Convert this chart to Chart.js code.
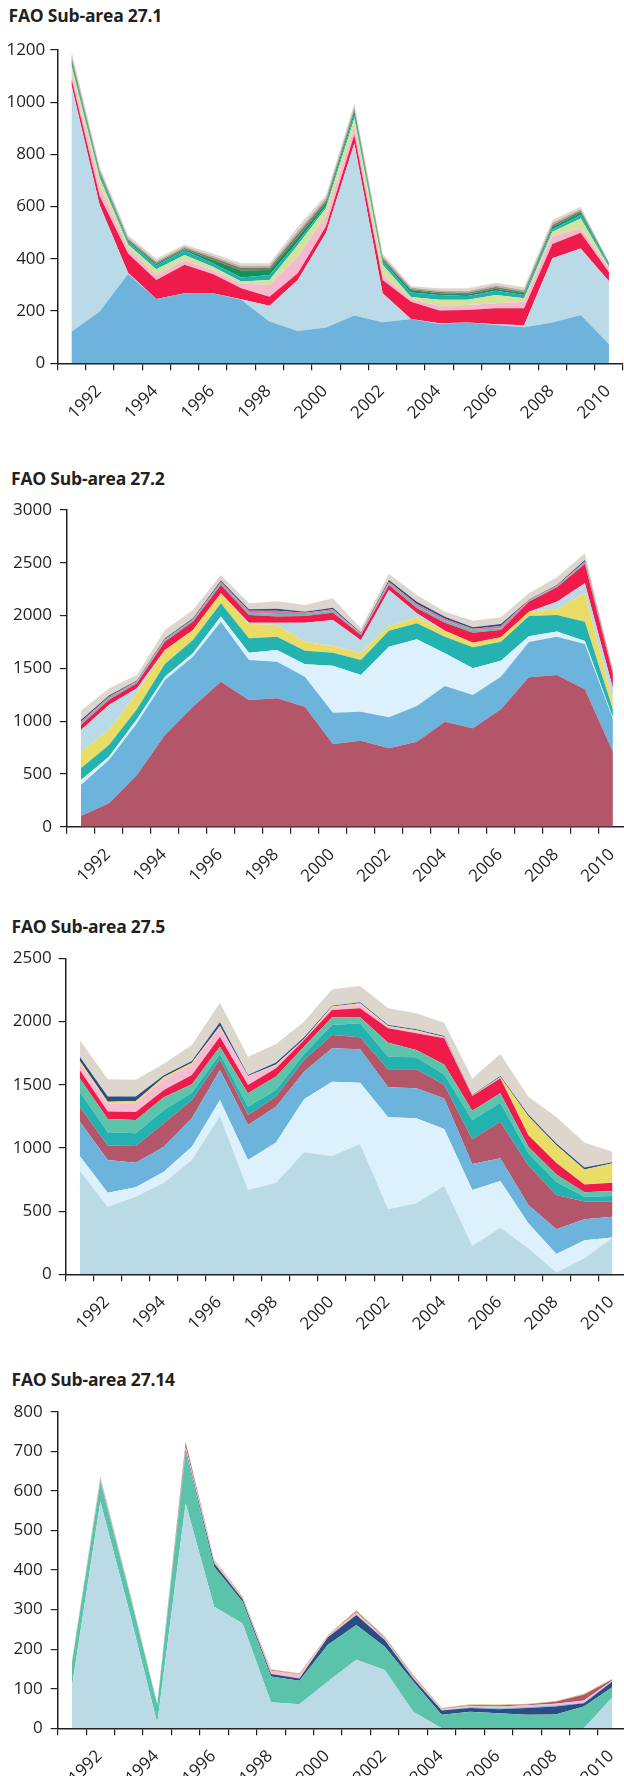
<!DOCTYPE html>
<html>
<head>
<meta charset="utf-8">
<script src="https://cdn.jsdelivr.net/npm/chart.js@4.4.1/dist/chart.umd.min.js"></script>
<style>
  html, body { margin: 0; padding: 0; background: #fff; width: 624px; height: 1776px; overflow: hidden; }
  .title { position: absolute; font-family: 'Open Sans', sans-serif; font-weight: 700; font-size: 17.5px;
           line-height: 17.5px; color: #231f20; white-space: nowrap; letter-spacing: -0.2px; }
  canvas { position: absolute; left: 0; }
</style>
</head>
<body>
<div class="title" style="left:8.5px;top:7px">FAO Sub-area 27.1</div>
<canvas id="c1" width="640" height="410" style="top:30px;width:640px;height:410px"></canvas>

<div class="title" style="left:11px;top:469.5px">FAO Sub-area 27.2</div>
<canvas id="c2" width="640" height="410" style="top:490px;width:640px;height:410px"></canvas>

<div class="title" style="left:11.5px;top:917.5px">FAO Sub-area 27.5</div>
<canvas id="c3" width="640" height="410" style="top:938px;width:640px;height:410px"></canvas>

<div class="title" style="left:11.5px;top:1371px">FAO Sub-area 27.14</div>
<canvas id="c4" width="640" height="386" style="top:1390px;width:640px;height:386px"></canvas>

<script>
// Years on the category axis
const years = ['1991','1992','1993','1994','1995','1996','1997','1998','1999','2000',
               '2001','2002','2003','2004','2005','2006','2007','2008','2009','2010'];

// ---- Sub-area 27.1 (layers bottom to top) ----
const s1Blue        = [121,198,342,246,268,268,243,160,124,137,183,157,170,151,156,147,138,156,185,74];
const s1LightBlue   = [945,407,5,0,0,0,2,60,195,363,660,111,0,2,0,3,8,246,255,240];
const s1Red         = [25,35,74,73,109,74,42,35,26,25,32,51,66,49,48,61,65,55,60,35];
const s1Pink        = [25,40,19,21,19,15,19,45,63,40,31,19,10,18,19,19,25,31,17,15];
const s1YellowGreen = [25,30,15,20,19,13,7,19,45,30,32,39,8,23,20,32,13,16,38,5];
const s1Teal        = [8,10,10,15,17,13,16,19,13,8,13,12,17,19,15,16,13,9,13,8];
const s1DarkGreen   = [12,8,5,5,5,13,26,19,17,12,13,7,10,6,6,8,6,10,10,5];
const s1TaupeDark   = [10,7,5,5,5,8,10,9,12,9,9,7,4,5,6,6,6,7,6,2];
const s1TaupeMid    = [10,8,6,6,5,7,8,8,12,9,10,8,5,6,7,7,7,8,7,2];
const s1TaupeLight  = [15,10,9,9,8,10,10,9,16,12,13,10,6,8,10,10,10,11,9,1];

// ---- Sub-area 27.2 ----
const s2Maroon    = [101,221,489,868,1137,1374,1200,1216,1137,783,815,742,805,995,932,1112,1415,1437,1301,711];
const s2Blue      = [294,411,490,522,474,568,379,347,284,297,274,294,338,338,315,309,335,363,429,310];
const s2PaleCyan  = [47,31,38,31,31,48,69,111,117,445,348,669,632,310,253,152,55,50,30,10];
const s2Teal      = [111,111,95,120,126,126,136,126,129,123,142,152,152,157,199,180,191,155,182,80];
const s2Yellow    = [158,142,158,133,95,95,136,111,86,64,69,44,56,57,44,41,41,54,275,80];
const s2LightBlue = [205,237,41,0,0,0,13,22,180,246,119,341,38,0,0,0,0,73,89,120];
const s2Red       = [47,47,47,79,79,79,72,57,63,69,48,48,48,76,95,69,95,136,183,130];
const s2SeaGreen  = [16,16,12,12,13,15,22,25,19,19,8,15,22,17,25,16,8,8,11,9];
const s2Pink      = [16,16,8,10,10,13,19,31,12,13,7,15,19,20,12,21,5,6,12,6];
const s2Navy      = [15,12,8,9,9,13,13,19,10,16,7,16,22,19,14,20,5,8,15,10];
const s2Taupe     = [89,66,50,79,79,53,57,70,63,88,42,58,63,48,63,63,61,72,63,30];

// ---- Sub-area 27.5 ----
const s3LightBlue = [820,535,614,725,905,1250,667,725,965,936,1031,514,562,701,224,369,206,15,127,290];
const s3PaleCyan  = [116,111,74,87,105,129,238,317,419,588,485,728,672,449,443,369,197,146,143,2];
const s3Blue      = [272,259,195,198,224,238,276,284,219,264,264,237,237,240,206,180,146,195,165,164];
const s3Maroon    = [118,113,132,185,145,84,79,80,93,105,95,143,151,110,195,289,311,272,140,119];
const s3Teal      = [119,105,100,105,58,42,66,52,47,79,111,100,95,80,153,151,100,102,39,45];
const s3SeaGreen  = [106,106,106,100,66,58,106,106,58,61,47,110,57,80,73,74,50,60,36,39];
const s3Red       = [65,58,63,58,74,79,66,66,53,58,71,114,133,207,116,119,90,90,60,66];
const s3Pink      = [53,66,69,87,84,79,71,26,5,21,35,14,18,8,2,4,3,3,2,2];
const s3Yellow    = [21,13,18,15,13,5,0,4,3,6,5,4,5,3,3,5,147,137,118,151];
const s3Navy      = [32,40,35,15,13,31,8,15,13,7,8,8,8,7,3,9,15,15,15,8];
const s3Taupe     = [132,137,134,90,127,154,145,147,124,130,129,132,127,105,132,174,140,210,197,84];

// ---- Sub-area 27.14 ----
const s4LightBlue = [105,573,300,13,568,307,265,66,61,118,173,147,42,0,0,0,0,0,0,78];
const s4SeaGreen  = [59,50,48,46,131,101,55,65,59,93,88,59,76,34,42,38,34,35,55,26];
const s4Navy      = [1,2,1,1,4,9,6,6,6,19,25,17,8,11,9,10,17,20,8,14];
const s4SkyBlue   = [0,0,0,0,0,0,0,0,0,0,0,0,0,0,3,3,3,3,2,1];
const s4Pink      = [2,5,3,2,8,8,2,9,9,3,7,4,5,3,3,4,4,4,5,2];
const s4Maroon    = [1,2,1,0,10,0,1,2,1,1,3,2,2,1,2,3,2,5,15,2];
const s4Olive     = [2,4,2,1,4,2,4,1,3,2,3,3,2,2,2,2,2,2,2,2];

const INK = '#231f20';
const FONT = { family: "'Open Sans', sans-serif", size: 17 };

function stackedArea(id, layers, o) {
  const datasets = layers.map((l, i) => ({
    label: l[0],
    data: l[1],
    backgroundColor: l[2],
    borderColor: l[2],
    borderWidth: 0,
    pointRadius: 0,
    tension: 0,
    fill: i === 0 ? 'origin' : '-1'
  }));
  return new Chart(document.getElementById(id), {
    type: 'line',
    data: { labels: years, datasets },
    options: {
      responsive: false,
      animation: false,
      devicePixelRatio: 1,
      layout: { padding: { top: o.padTop, right: o.padRight, left: 0, bottom: 0 } },
      plugins: { legend: { display: false }, tooltip: { enabled: false } },
      scales: {
        x: {
          type: 'category',
          offset: true,
          grid: { offset: true, drawOnChartArea: false, drawTicks: true, tickLength: 7, color: INK, lineWidth: 1.2 },
          border: { display: true, color: INK, width: 1.5 },
          ticks: {
            autoSkip: false, minRotation: 45, maxRotation: 45, padding: 11, labelOffset: -1,
            color: INK, font: FONT,
            callback: (v, i) => (Number(years[i]) % 2 === 0 ? years[i] : '')
          },
          afterFit: s => { s.height = o.xHeight; }
        },
        y: {
          stacked: true,
          min: 0, max: o.max,
          grid: { drawOnChartArea: false, drawTicks: true, tickLength: 7, color: INK, lineWidth: 1.2 },
          border: { display: true, color: INK, width: 1.5 },
          ticks: { stepSize: o.step, padding: o.labelPad, color: INK, font: FONT, callback: v => String(v) },
          afterFit: s => { s.width = o.yWidth; }
        }
      }
    }
  });
}

stackedArea('c1', [
  ['Blue', s1Blue, '#6db3dc'],
  ['Light blue', s1LightBlue, '#b9dae6'],
  ['Red', s1Red, '#ee1b4b'],
  ['Pink', s1Pink, '#f6bad0'],
  ['Yellow-green', s1YellowGreen, '#d3e39c'],
  ['Teal', s1Teal, '#1fb1ae'],
  ['Dark green', s1DarkGreen, '#16905a'],
  ['Dark taupe', s1TaupeDark, '#857565'],
  ['Taupe', s1TaupeMid, '#b8ada1'],
  ['Light taupe', s1TaupeLight, '#ddd7cf']
], { max: 1200, step: 200, padTop: 20, padRight: 16.9, xHeight: 76.7, yWidth: 57.3, labelPad: 5 });

stackedArea('c2', [
  ['Maroon', s2Maroon, '#b4566a'],
  ['Blue', s2Blue, '#6db4dc'],
  ['Pale cyan', s2PaleCyan, '#dcf1fb'],
  ['Teal', s2Teal, '#24b3b1'],
  ['Yellow', s2Yellow, '#e9dc67'],
  ['Light blue', s2LightBlue, '#b9dae6'],
  ['Red', s2Red, '#ee1b4b'],
  ['Sea green', s2SeaGreen, '#5ac2a9'],
  ['Pink', s2Pink, '#e96aa0'],
  ['Navy', s2Navy, '#2b4c85'],
  ['Taupe', s2Taupe, '#ddd6cc']
], { max: 3000, step: 500, padTop: 20, padRight: 13.1, xHeight: 73.3, yWidth: 66.9, labelPad: 8 });

stackedArea('c3', [
  ['Light blue', s3LightBlue, '#badbe6'],
  ['Pale cyan', s3PaleCyan, '#dcf1fb'],
  ['Blue', s3Blue, '#6db4dc'],
  ['Maroon', s3Maroon, '#b4566a'],
  ['Teal', s3Teal, '#24b2b1'],
  ['Sea green', s3SeaGreen, '#5dc4ac'],
  ['Red', s3Red, '#ee1b4b'],
  ['Pink', s3Pink, '#f6bcd2'],
  ['Yellow', s3Yellow, '#e9dc67'],
  ['Navy', s3Navy, '#2b4c85'],
  ['Taupe', s3Taupe, '#ddd6cc']
], { max: 2500, step: 500, padTop: 20.3, padRight: 13.5, xHeight: 73.7, yWidth: 65.7, labelPad: 7 });

stackedArea('c4', [
  ['Light blue', s4LightBlue, '#badbe6'],
  ['Sea green', s4SeaGreen, '#5cc3ab'],
  ['Navy', s4Navy, '#2b4c85'],
  ['Sky blue', s4SkyBlue, '#7fc4e3'],
  ['Pink', s4Pink, '#f6bcd2'],
  ['Maroon', s4Maroon, '#b4566a'],
  ['Olive', s4Olive, '#c8c96a']
], { max: 800, step: 100, padTop: 21.7, padRight: 13.5, xHeight: 47.7, yWidth: 57.7, labelPad: 8 });
</script>
</body>
</html>
